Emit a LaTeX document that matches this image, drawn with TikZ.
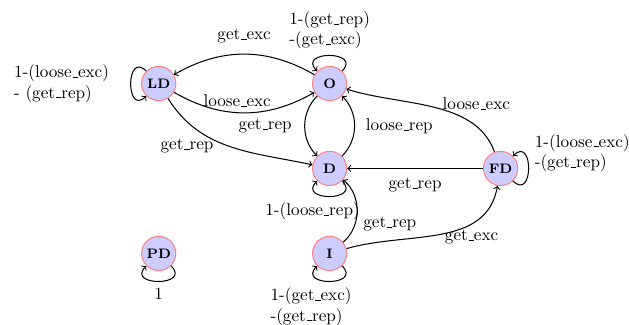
\documentclass[tikz,border=0pt]{standalone}
\usepackage{amsmath}
\usepackage{tikz}

\newcommand{\usc}{\leavevmode\kern.06em\vbox{\hrule width.3em}}

\begin{document}
\begin{tikzpicture}[
    st/.style={circle, draw=red!50, fill=blue!20, semithick, minimum size=0.7cm, inner sep=0pt, font=\footnotesize\bfseries},
    tr/.style={->, semithick}]
      \useasboundingbox (-3.25,1.71) rectangle (9.63,-4.94);

      \node[st] (LD) at (0,0){LD};
      \node[st] (O) at (3.5,0){O};
      \node[st] (D) at (3.5,-1.74){D};
      \node[st] (FD) at (7,-1.74){FD};
      \node[st] (PD) at (0,-3.48){PD};
      \node[st] (I) at (3.5,-3.48){I};

      % self loops
      \draw[tr] (LD.135) .. controls +(135:0.6) and +(225:0.6) .. node[left=9pt, align=left]{1-(loose\usc exc)\\- (get\usc rep)} (LD.225);
      \draw[tr] (O.45) .. controls +(45:0.6) and +(135:0.6) .. node[above, align=left]{1-(get\usc rep)\\-(get\usc exc)} (O.135);
      \draw[tr] (D.-45) .. controls +(-45:0.6) and +(-135:0.6) .. node[below, xshift=-0.35cm]{1-(loose\usc rep)} (D.-135);
      \draw[tr] (FD.-45) .. controls +(-45:0.6) and +(45:0.6) .. node[right, yshift=9pt, align=left]{1-(loose\usc exc)\\-(get\usc rep)} (FD.45);
      \draw[tr] (PD.-45) .. controls +(-45:0.6) and +(-135:0.6) .. node[below]{1} (PD.-135);
      \draw[tr] (I.-45) .. controls +(-45:0.6) and +(-135:0.6) .. node[below, xshift=-0.38cm, align=left]{1-(get\usc exc)\\-(get\usc rep)} (I.-135);

      % transitions
      \draw[tr] (O) to[bend right=30] node[above=3pt]{get\usc exc} (LD);
      \draw[tr] (LD) to[bend right=30] node[pos=0.45, above]{loose\usc exc} (O);
      \draw[tr] (LD) to[out=-58, in=168] node[pos=0.43, left, yshift=-2pt]{get\usc rep} (D);
      \draw[tr] (O) to[bend right=45] node[left=4pt]{get\usc rep} (D);
      \draw[tr] (D) to[bend right=45] node[right=3pt]{loose\usc rep} (O);
      \draw[tr] (FD) -- node[below=2pt]{get\usc rep} (D);
      \draw[tr] (FD) to[out=110, in=-18, looseness=0.9] node[pos=0.45, right, xshift=-3pt, yshift=3pt]{loose\usc exc} (O);
      \draw[tr] (I) to[bend right=50] node[below right]{get\usc rep} (D);
      \draw[tr] (I) to[out=16, in=-100] node[pos=0.7, below]{get\usc exc} (FD);

    \end{tikzpicture}
\end{document}
